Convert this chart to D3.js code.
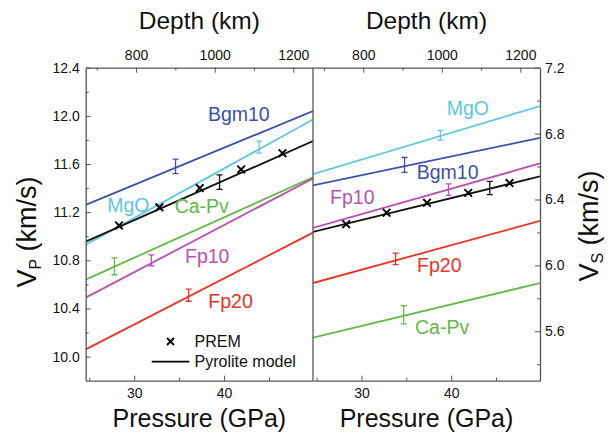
<!DOCTYPE html>
<html>
<head>
<meta charset="utf-8">
<script src="https://cdn.jsdelivr.net/npm/d3@7"></script>
<style>
  html, body { margin: 0; padding: 0; background: #fff; }
  svg { display: block; font-family: "Liberation Sans", Arial, sans-serif; }
</style>
</head>
<body>
<svg id="chart" width="610" height="434"></svg>
<script>
// ---- data ----
const pressureDomain = [24.6, 49.9];          // GPa
const depthDomain = [672, 1250];              // km (top axis)
const vpDomain = [9.8, 12.4];
const vsDomain = [5.3, 7.2];

const pressureTicks = [30, 40];
const pressureMinor = [25, 35, 45];
const depthTicks = [800, 1000, 1200];
const depthMinor = [700, 900, 1100];
const vpTicks = [10.0, 10.4, 10.8, 11.2, 11.6, 12.0, 12.4];
const vpMinor = [10.2, 10.6, 11.0, 11.4, 11.8, 12.2];
const vsTicks = [5.6, 6.0, 6.4, 6.8, 7.2];
const vsMinor = [5.4, 5.8, 6.2, 6.6, 7.0];

const phases = ["Bgm10", "MgO", "Pyrolite", "Ca-Pv", "Fp10", "Fp20"];

// model velocities at the two ends of the pressure range
const vpBgm10 = [11.26, 12.04];
const vpMgO = [10.93, 11.97];
const vpPyrolite = [10.955, 11.79];
const vpCaPv = [10.64, 11.49];
const vpFp10 = [10.49, 11.48];
const vpFp20 = [10.06, 11.03];

const vsBgm10 = [6.485, 6.774];
const vsMgO = [6.554, 6.967];
const vsPyrolite = [6.203, 6.54];
const vsCaPv = [5.561, 5.893];
const vsFp10 = [6.227, 6.619];
const vsFp20 = [5.893, 6.27];

// uncertainty bars: pressure, velocity, half-width (same order as phases)
const vpErrP = [34.6, 43.9, 39.5, 27.8, 31.9, 36.05];
const vpErrV = [11.58, 11.74, 11.45, 10.75, 10.80, 10.51];
const vpErrE = [0.06, 0.05, 0.06, 0.07, 0.045, 0.05];

const vsErrP = [34.8, 38.8, 44.3, 34.7, 39.7, 33.8];
const vsErrV = [6.61, 6.79, 6.47, 5.70, 6.46, 6.04];
const vsErrE = [0.045, 0.03, 0.04, 0.055, 0.035, 0.035];

// PREM reference
const premP = [28.3, 32.8, 37.3, 41.9, 46.5];
const premVp = [11.09, 11.24, 11.40, 11.555, 11.69];
const premVs = [6.25, 6.32, 6.38, 6.44, 6.50];

// phase labels (pressure, velocity of text baseline start)
const vpLabelName = ["Bgm10", "MgO", "Ca-Pv", "Fp10", "Fp20"];
const vpLabelP = [38.2, 27.0, 34.5, 35.65, 38.25];
const vpLabelV = [11.96, 11.2, 11.196, 10.775, 10.40];
const vsLabelName = ["MgO", "Bgm10", "Fp10", "Fp20", "Ca-Pv"];
const vsLabelP = [39.5, 36.16, 26.5, 36.2, 35.97];
const vsLabelV = [6.912, 6.523, 6.37, 5.96, 5.585];

// ---- styles ----
const color = {
  "Bgm10": "#3c51a6",
  "MgO": "#5fc6de",
  "Pyrolite": "#111111",
  "Ca-Pv": "#63b847",
  "Fp10": "#b94fae",
  "Fp20": "#ee3124"
};
const frameColor = "#555";

// ---- layout ----
const plotTop = 67.7, plotBottom = 380.7;
const leftX = [85.7, 313], rightX = [313, 540];

const svg = d3.select("#chart");

const vpLines = { "Bgm10": vpBgm10, "MgO": vpMgO, "Pyrolite": vpPyrolite, "Ca-Pv": vpCaPv, "Fp10": vpFp10, "Fp20": vpFp20 };
const vsLines = { "Bgm10": vsBgm10, "MgO": vsMgO, "Pyrolite": vsPyrolite, "Ca-Pv": vsCaPv, "Fp10": vsFp10, "Fp20": vsFp20 };

function panel(opts) {
  const x = d3.scaleLinear().domain(pressureDomain).range(opts.xr);
  const xd = d3.scaleLinear().domain(depthDomain).range(opts.xr);
  const y = d3.scaleLinear().domain(opts.yDomain).range([plotBottom, plotTop]);
  const g = svg.append("g");

  const clipId = "clip-" + opts.id;
  svg.append("defs").append("clipPath").attr("id", clipId)
    .append("rect").attr("x", opts.xr[0]).attr("y", plotTop)
    .attr("width", opts.xr[1] - opts.xr[0]).attr("height", plotBottom - plotTop);

  const plot = g.append("g").attr("clip-path", `url(#${clipId})`);

  // model lines
  const line = d3.line().x(d => x(d[0])).y(d => y(d[1]));
  phases.forEach(ph => {
    const v = opts.lines[ph];
    plot.append("path")
      .datum([[pressureDomain[0], v[0]], [pressureDomain[1], v[1]]])
      .attr("d", line)
      .attr("fill", "none")
      .attr("stroke", color[ph])
      .attr("stroke-width", 1.8);
  });

  // error bars
  phases.forEach((ph, i) => {
    const px = x(opts.errP[i]);
    const y0 = y(opts.errV[i] - opts.errE[i]);
    const y1 = y(opts.errV[i] + opts.errE[i]);
    const eg = plot.append("g").attr("stroke", color[ph]).attr("stroke-width", 1.3);
    eg.append("line").attr("x1", px).attr("x2", px).attr("y1", y0).attr("y2", y1);
    eg.append("line").attr("x1", px - 3).attr("x2", px + 3).attr("y1", y0).attr("y2", y0);
    eg.append("line").attr("x1", px - 3).attr("x2", px + 3).attr("y1", y1).attr("y2", y1);
  });

  // PREM crosses
  const s = 3.8;
  opts.prem.forEach((v, i) => {
    const cx = x(premP[i]), cy = y(v);
    plot.append("path")
      .attr("d", `M${cx - s},${cy - s}L${cx + s},${cy + s}M${cx - s},${cy + s}L${cx + s},${cy - s}`)
      .attr("stroke", "#000").attr("stroke-width", 1.9).attr("fill", "none");
  });

  // phase labels
  opts.labelName.forEach((name, i) => {
    g.append("text")
      .attr("x", x(opts.labelP[i]))
      .attr("y", y(opts.labelV[i]))
      .attr("fill", color[name])
      .attr("font-size", 19.5)
      .text(name);
  });

  // axes with inward ticks
  const fmtTick = sel => {
    sel.selectAll("text").attr("font-size", 14).attr("fill", "#111").attr("font-family", "Liberation Sans, Arial, sans-serif");
    sel.selectAll(".tick line").attr("stroke", frameColor);
    sel.select(".domain").attr("stroke", frameColor).attr("stroke-width", 1.3);
  };

  g.append("g").attr("transform", `translate(0,${plotBottom})`)
    .call(d3.axisBottom(x).tickValues(pressureTicks).tickSizeInner(-5).tickSizeOuter(0).tickPadding(7).tickFormat(d3.format("d")))
    .call(fmtTick);
  g.append("g").attr("transform", `translate(0,${plotBottom})`)
    .call(d3.axisBottom(x).tickValues(pressureMinor).tickSizeInner(-3).tickSizeOuter(0).tickFormat(""))
    .call(fmtTick).select(".domain").remove();

  g.append("g").attr("transform", `translate(0,${plotTop})`)
    .call(d3.axisTop(xd).tickValues(depthTicks).tickSizeInner(-5).tickSizeOuter(0).tickPadding(8).tickFormat(d3.format("d")))
    .call(fmtTick);
  g.append("g").attr("transform", `translate(0,${plotTop})`)
    .call(d3.axisTop(xd).tickValues(depthMinor).tickSizeInner(-3).tickSizeOuter(0).tickFormat(""))
    .call(fmtTick).select(".domain").remove();

  if (opts.side === "left") {
    g.append("g").attr("transform", `translate(${opts.xr[0]},0)`)
      .call(d3.axisLeft(y).tickValues(vpTicks).tickSizeInner(-5).tickSizeOuter(0).tickPadding(6).tickFormat(d3.format(".1f")))
      .call(fmtTick);
    g.append("g").attr("transform", `translate(${opts.xr[0]},0)`)
      .call(d3.axisLeft(y).tickValues(vpMinor).tickSizeInner(-3).tickSizeOuter(0).tickFormat(""))
      .call(fmtTick).select(".domain").remove();
  } else {
    g.append("g").attr("transform", `translate(${opts.xr[1]},0)`)
      .call(d3.axisRight(y).tickValues(vsTicks).tickSizeInner(-5).tickSizeOuter(0).tickPadding(5).tickFormat(d3.format(".1f")))
      .call(fmtTick);
    g.append("g").attr("transform", `translate(${opts.xr[1]},0)`)
      .call(d3.axisRight(y).tickValues(vsMinor).tickSizeInner(-3).tickSizeOuter(0).tickFormat(""))
      .call(fmtTick).select(".domain").remove();
  }

  // axis titles
  const cx = (opts.xr[0] + opts.xr[1]) / 2;
  g.append("text").attr("x", cx).attr("y", 29).attr("text-anchor", "middle")
    .attr("font-size", 24.5).attr("fill", "#111").text("Depth (km)");
  g.append("text").attr("x", cx).attr("y", 427).attr("text-anchor", "middle")
    .attr("font-size", 25).attr("fill", "#111").text("Pressure (GPa)");

  return { x, y };
}

panel({
  id: "vp", side: "left", xr: leftX, yDomain: vpDomain, lines: vpLines,
  errP: vpErrP, errV: vpErrV, errE: vpErrE, prem: premVp,
  labelName: vpLabelName, labelP: vpLabelP, labelV: vpLabelV
});
panel({
  id: "vs", side: "right", xr: rightX, yDomain: vsDomain, lines: vsLines,
  errP: vsErrP, errV: vsErrV, errE: vsErrE, prem: premVs,
  labelName: vsLabelName, labelP: vsLabelP, labelV: vsLabelV
});

// panel divider
svg.append("line").attr("x1", 313).attr("x2", 313).attr("y1", plotTop).attr("y2", plotBottom)
  .attr("stroke", frameColor).attr("stroke-width", 1.3);

// y-axis titles
const vpTitle = svg.append("text").attr("transform", "translate(36,232) rotate(-90)")
  .attr("text-anchor", "middle").attr("font-size", 27).attr("fill", "#111");
vpTitle.append("tspan").text("V");
vpTitle.append("tspan").attr("font-size", 16).attr("dy", 5).text("P");
vpTitle.append("tspan").attr("dy", -5).text(" (km/s)");

const vsTitle = svg.append("text").attr("transform", "translate(598,226) rotate(-90)")
  .attr("text-anchor", "middle").attr("font-size", 27).attr("fill", "#111");
vsTitle.append("tspan").text("V");
vsTitle.append("tspan").attr("font-size", 16).attr("dy", 5).text("S");
vsTitle.append("tspan").attr("dy", -5).text(" (km/s)");

// legend
const lg = svg.append("g").attr("font-size", 16).attr("fill", "#111");
lg.append("path").attr("d", "M167,338L174,345M167,345L174,338")
  .attr("stroke", "#000").attr("stroke-width", 1.9);
lg.append("text").attr("x", 194.5).attr("y", 347).text("PREM");
lg.append("line").attr("x1", 151.7).attr("x2", 189.3).attr("y1", 361.7).attr("y2", 361.7)
  .attr("stroke", "#000").attr("stroke-width", 1.8);
lg.append("text").attr("x", 194.5).attr("y", 367).text("Pyrolite model");
</script>
</body>
</html>
